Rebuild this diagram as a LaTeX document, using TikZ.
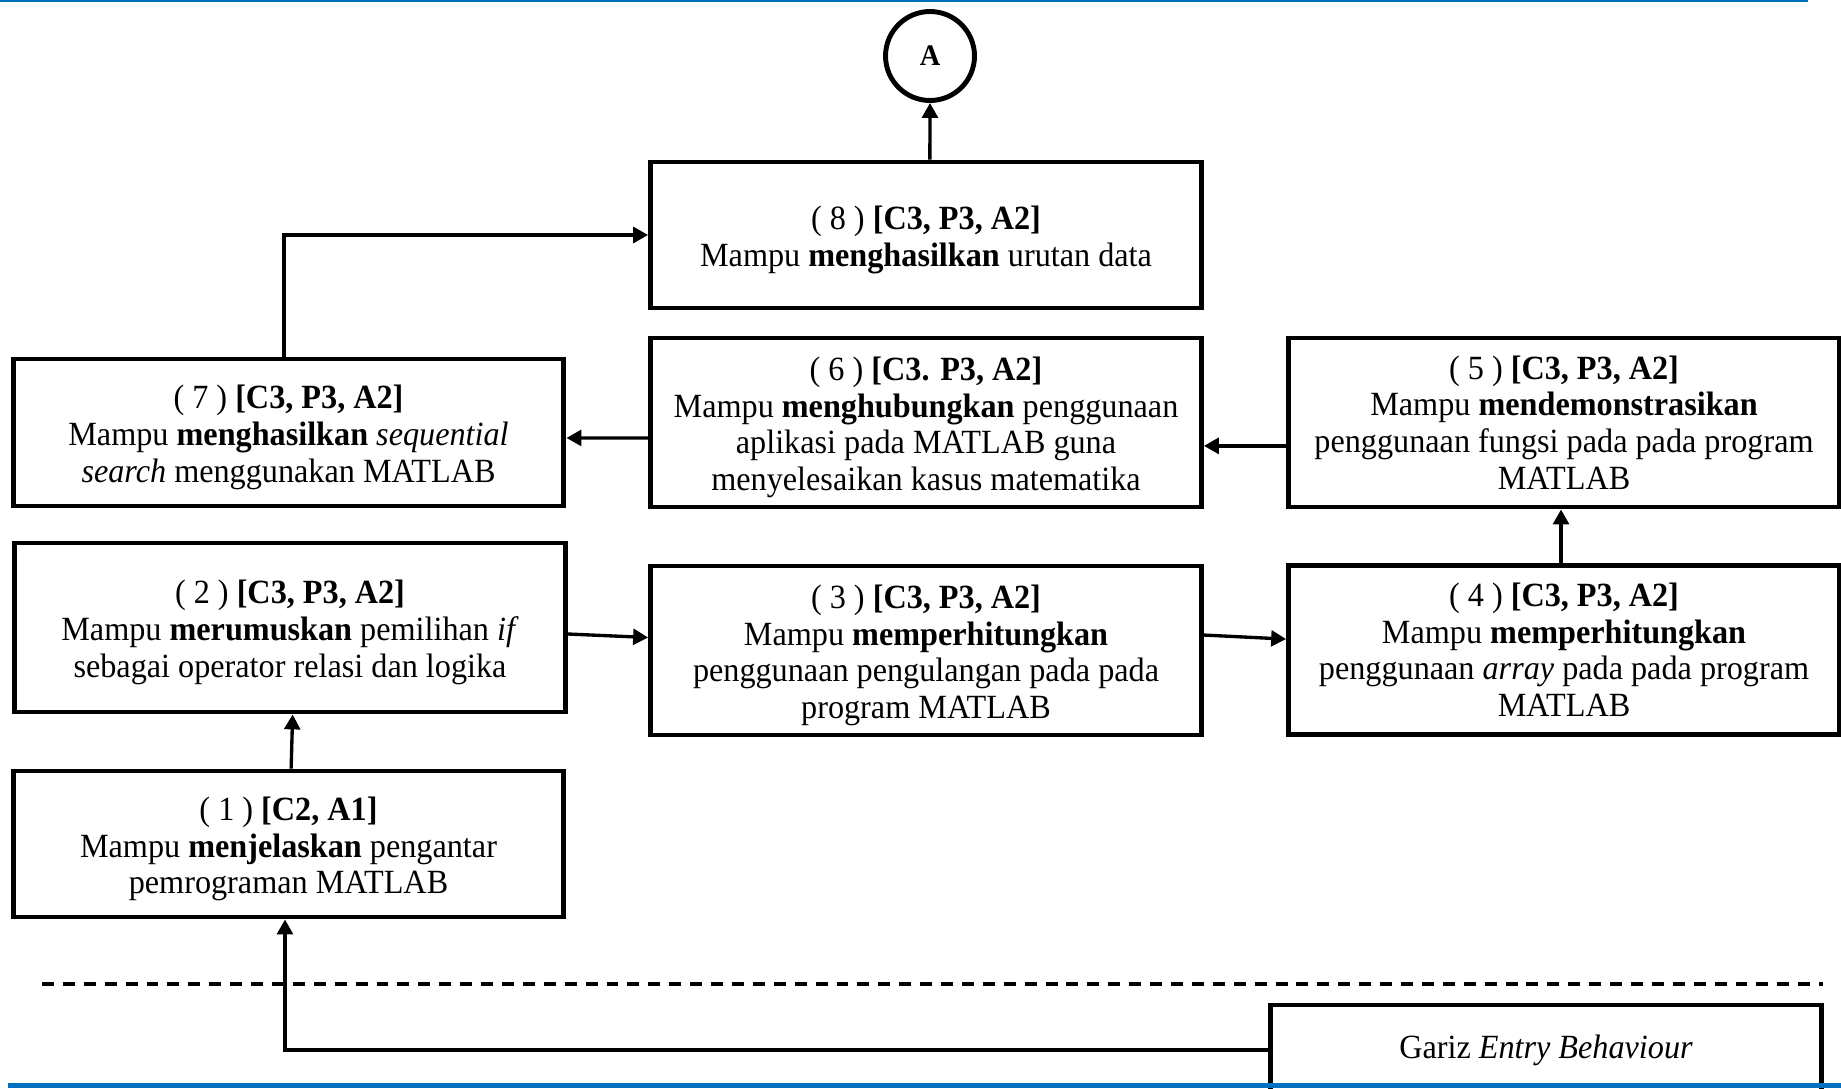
\documentclass[tikz,border=0pt]{standalone}
\usepackage{fontspec}
\setmainfont{Liberation Serif}[FakeStretch=0.95]
\usetikzlibrary{arrows.meta,positioning,shadows}
\definecolor{garisbiru}{HTML}{0070C0}
\newcommand{\baris}{\rule{0pt}{19pt}}
\tikzstyle{tujuan}=[draw,line width=2.8pt,align=center,minimum width=11.02cm,inner sep=0pt,font=\fontsize{19.3}{20.8}\selectfont]
\tikzstyle{penghubung}=[draw,circle,line width=2.8pt,minimum size=1.78cm,fill=white,font=\bfseries\fontsize{17}{20}\selectfont,drop shadow={opacity=0.2,shadow xshift=0pt,shadow yshift=-1.5pt}]
\tikzstyle{panah}=[line width=1.9pt,-{Triangle[length=8.5pt,width=9pt]}]
\tikzstyle{garis putus}=[line width=2.4pt,dash pattern=on 6.8pt off 5.1pt]

\begin{document}
\begin{tikzpicture}[x=0.02cm,y=-0.02cm]
  \useasboundingbox (0,0) rectangle (1841,1088);
  % garis tepi atas
  \draw[garisbiru,line width=1.7pt] (0,1) -- (1808,1);

  \node[penghubung] (A) at (930,56) {A};
  \node[tujuan,minimum height=2.92cm] (b8) at (926,235) {\baris( 8 ) \textbf{[C3, P3, A2]}\\ Mampu \textbf{menghasilkan} urutan data};
  \node[tujuan,minimum height=2.94cm] (b7) at (288.5,432.5) {\baris( 7 ) \textbf{[C3, P3, A2]}\\ Mampu \textbf{menghasilkan} \textit{sequential}\\ \textit{search} menggunakan MATLAB};
  \node[tujuan,minimum height=3.38cm] (b6) at (926,422.5) {\baris( 6 ) \textbf{[C3. P3, A2]}\\ Mampu \textbf{menghubungkan} penggunaan\\ aplikasi pada MATLAB guna\\ menyelesaikan kasus matematika};
  \node[tujuan,minimum height=3.38cm] (b5) at (1564,422.5) {( 5 ) \textbf{[C3, P3, A2]}\\ Mampu \textbf{mendemonstrasikan}\\ penggunaan fungsi pada pada program\\ MATLAB};
  \node[tujuan,minimum height=3.38cm] (b2) at (290,627.5) {\baris( 2 ) \textbf{[C3, P3, A2]}\\ Mampu \textbf{merumuskan} pemilihan \textit{if}\\ sebagai operator relasi dan logika};
  \node[tujuan,minimum height=3.38cm] (b3) at (926,650.5) {\baris( 3 ) \textbf{[C3, P3, A2]}\\ Mampu \textbf{memperhitungkan}\\ penggunaan pengulangan pada pada\\ program MATLAB};
  \node[tujuan,minimum height=3.38cm] (b4) at (1564,650) {( 4 ) \textbf{[C3, P3, A2]}\\ Mampu \textbf{memperhitungkan}\\ penggunaan \textit{array} pada pada program\\ MATLAB};
  \node[tujuan,minimum height=2.92cm] (b1) at (288.5,844) {\baris( 1 ) \textbf{[C2, A1]}\\ Mampu \textbf{menjelaskan} pengantar\\ pemrograman MATLAB};

  % garis entry behaviour
  \coordinate (g1) at (42,984);
  \coordinate (g2) at (1823,984);
  \draw[garis putus] (g1) -- (g2);
  \node[tujuan,minimum height=1.8cm] (eb) at (1546,1050) {Gariz \textit{Entry Behaviour}};

  \draw[panah] ([xshift=2.2pt]b8.north) -- (A.south);
  \draw[panah] ([xshift=-2.5pt]b7.north) |- (b8.west);
  \draw[panah] ([yshift=-8.8pt]b6.west) -- ([yshift=-3.1pt]b7.east);
  \draw[panah] ([yshift=-13.3pt]b5.west) -- ([yshift=-13.3pt]b6.east);
  \draw[panah] ([xshift=-1.7pt]b4.north) -- ([xshift=-1.7pt]b5.south);
  \draw[panah] ([yshift=8.8pt]b3.east) -- ([yshift=6.2pt]b4.west);
  \draw[panah] ([yshift=-3.7pt]b2.east) -- ([yshift=7.4pt]b3.west);
  \draw[panah] ([xshift=1.5pt]b1.north) -- ([xshift=1.5pt]b2.south);
  \draw[panah] (eb.west) -| ([xshift=-2pt]b1.south);

  % garis tepi bawah
  \draw[garisbiru,line width=2.8pt] (8,1085.5) -- (1841,1085.5);
\end{tikzpicture}
\end{document}
